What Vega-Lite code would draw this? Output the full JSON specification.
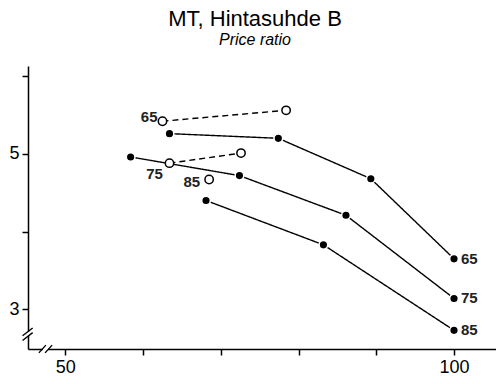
{
  "$schema": "https://vega.github.io/schema/vega-lite/v6.json",
  "width": 468,
  "height": 283,
  "autosize": {"type": "none"},
  "padding": {"left": 28, "top": 66, "right": 0, "bottom": 35},
  "background": "white",
  "config": {
    "font": "Liberation Sans",
    "view": {"stroke": null},
    "axis": {"grid": false, "domainColor": "black", "domainWidth": 1.5, "tickColor": "black", "tickWidth": 1.5, "tickSize": 6, "labelColor": "black", "labelFontSize": 18, "labelFont": "Liberation Sans", "title": null}
  },
  "title": {
    "text": "MT, Hintasuhde B",
    "subtitle": "Price ratio",
    "fontSize": 22,
    "fontWeight": "normal",
    "subtitleFontSize": 16,
    "subtitleFontStyle": "italic",
    "subtitleFont": "Liberation Sans",
    "subtitlePadding": 1,
    "anchor": "middle",
    "dx": -7,
    "offset": 17,
    "color": "black",
    "subtitleColor": "black"
  },
  "datasets": {
    "points": [
      {"s": "65", "kind": "solid", "x": 63.4, "y": 5.26},
      {"s": "65", "kind": "solid", "x": 77.4, "y": 5.2},
      {"s": "65", "kind": "solid", "x": 89.3, "y": 4.68},
      {"s": "65", "kind": "solid", "x": 100, "y": 3.65},
      {"s": "75", "kind": "solid", "x": 58.4, "y": 4.96},
      {"s": "75", "kind": "solid", "x": 72.4, "y": 4.72},
      {"s": "75", "kind": "solid", "x": 86.1, "y": 4.21},
      {"s": "75", "kind": "solid", "x": 100, "y": 3.14},
      {"s": "85", "kind": "solid", "x": 68.1, "y": 4.4},
      {"s": "85", "kind": "solid", "x": 83.2, "y": 3.83},
      {"s": "85", "kind": "solid", "x": 100, "y": 2.73},
      {"s": "65", "kind": "dashed", "x": 62.5, "y": 5.42},
      {"s": "65", "kind": "dashed", "x": 78.4, "y": 5.56},
      {"s": "75", "kind": "dashed", "x": 63.4, "y": 4.88},
      {"s": "75", "kind": "dashed", "x": 72.6, "y": 5.01},
      {"s": "85", "kind": "dashed", "x": 68.5, "y": 4.67}
    ],
    "breaks": [
      {"part": "gap", "x": 45.2, "x2": 45.2, "y": 2.66, "y2": 2.71},
      {"part": "gap", "x": 47.1, "x2": 47.8, "y": 2.49, "y2": 2.49},
      {"part": "slash", "x": 44.5, "x2": 45.8, "y": 2.66, "y2": 2.76},
      {"part": "slash", "x": 44.5, "x2": 45.8, "y": 2.6, "y2": 2.7},
      {"part": "slash", "x": 46.6, "x2": 47.5, "y": 2.44, "y2": 2.54},
      {"part": "slash", "x": 47.4, "x2": 48.3, "y": 2.44, "y2": 2.54}
    ]
  },
  "encoding": {
    "x": {"field": "x", "type": "quantitative", "scale": {"domain": [45.2, 105.4], "nice": false, "zero": false},
      "axis": {"values": [50, 60, 70, 80, 90, 100], "labelExpr": "datum.value == 50 || datum.value == 100 ? datum.label : ''", "labelPadding": 3, "labelFlush": false}},
    "y": {"field": "y", "type": "quantitative", "scale": {"domain": [2.49, 6.13], "nice": false, "zero": false},
      "axis": {"values": [3, 4, 5, 6], "labelExpr": "datum.value == 3 || datum.value == 5 ? datum.label : ''", "labelPadding": 3}}
  },
  "layer": [
    {
      "data": {"name": "points"},
      "mark": {"type": "line", "color": "black", "strokeWidth": 1.4},
      "encoding": {
        "detail": {"field": "s"},
        "order": {"field": "x", "type": "quantitative"},
        "strokeDash": {"field": "kind", "type": "nominal", "scale": {"domain": ["solid", "dashed"], "range": [[1, 0], [6, 4]]}, "legend": null}
      }
    },
    {
      "data": {"name": "points"},
      "transform": [{"filter": "datum.kind == 'solid'"}],
      "mark": {"type": "point", "shape": "circle", "filled": true, "fill": "black", "stroke": "white", "strokeWidth": 1.5, "size": 75, "opacity": 1}
    },
    {
      "data": {"name": "points"},
      "transform": [{"filter": "datum.kind == 'dashed'"}],
      "mark": {"type": "point", "shape": "circle", "filled": false, "fill": "white", "fillOpacity": 1, "stroke": "black", "strokeWidth": 1.5, "size": 70, "opacity": 1}
    },
    {
      "data": {"name": "points"},
      "transform": [{"filter": "datum.kind == 'solid' && datum.x == 100"}],
      "mark": {"type": "text", "align": "left", "baseline": "middle", "dx": 7, "fontSize": 15, "fontWeight": "bold", "color": "#222"},
      "encoding": {"text": {"field": "s"}}
    },
    {
      "data": {"name": "points"},
      "transform": [{"filter": "datum.kind == 'dashed' && datum.s == '65' && datum.x < 70"}],
      "mark": {"type": "text", "align": "right", "baseline": "middle", "dx": -5, "dy": -4, "fontSize": 15, "fontWeight": "bold", "color": "#222"},
      "encoding": {"text": {"field": "s"}}
    },
    {
      "data": {"name": "points"},
      "transform": [{"filter": "datum.kind == 'dashed' && datum.s == '75' && datum.x < 70"}],
      "mark": {"type": "text", "align": "center", "baseline": "middle", "dx": -15, "dy": 11, "fontSize": 15, "fontWeight": "bold", "color": "#222"},
      "encoding": {"text": {"field": "s"}}
    },
    {
      "data": {"name": "points"},
      "transform": [{"filter": "datum.kind == 'dashed' && datum.s == '85'"}],
      "mark": {"type": "text", "align": "right", "baseline": "middle", "dx": -9, "dy": 2, "fontSize": 15, "fontWeight": "bold", "color": "#222"},
      "encoding": {"text": {"field": "s"}}
    },
    {
      "data": {"name": "breaks"},
      "transform": [{"filter": "datum.part == 'gap'"}],
      "mark": {"type": "rule", "color": "white", "strokeWidth": 4},
      "encoding": {"x2": {"field": "x2"}, "y2": {"field": "y2"}}
    },
    {
      "data": {"name": "breaks"},
      "transform": [{"filter": "datum.part == 'slash'"}],
      "mark": {"type": "rule", "color": "black", "strokeWidth": 1.4},
      "encoding": {"x2": {"field": "x2"}, "y2": {"field": "y2"}}
    }
  ]
}
